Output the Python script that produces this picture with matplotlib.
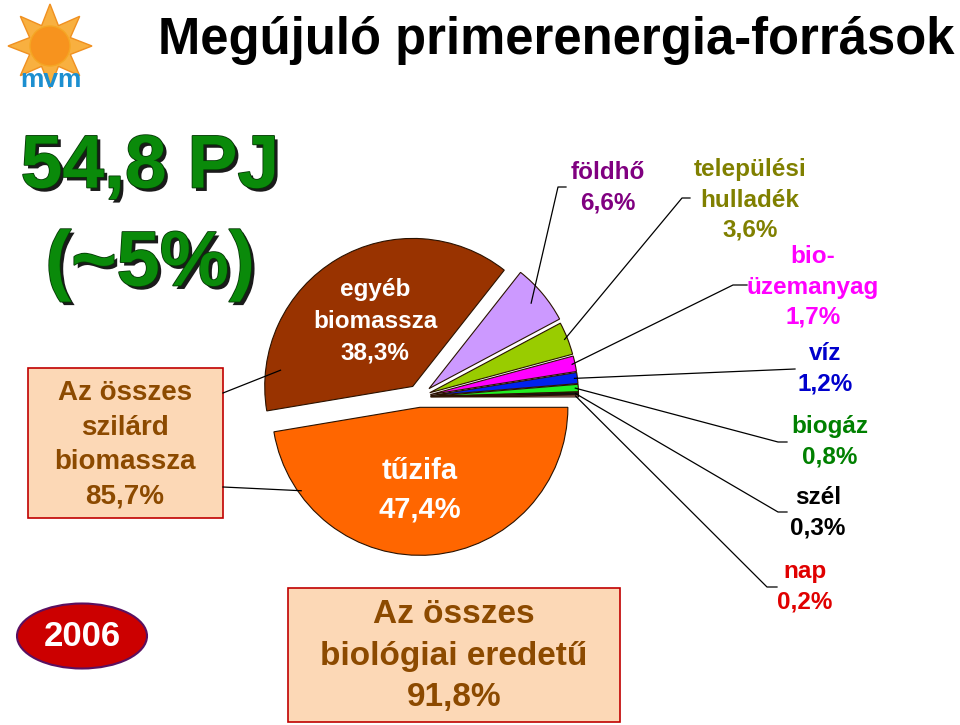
import matplotlib
matplotlib.use("Agg")
import matplotlib.pyplot as plt
import matplotlib.patheffects as pe
from matplotlib import font_manager
from matplotlib.patches import Ellipse, Rectangle, Circle, Polygon
import numpy as np

# data
names = ["tűzifa", "egyéb\nbiomassza", "földhő", "települési\nhulladék", "bio-\nüzemanyag",
         "víz", "biogáz", "szél", "nap"]
shares = [47.4, 38.3, 6.6, 3.6, 1.7, 1.2, 0.8, 0.3, 0.2]
colors = ["#FF6600", "#993300", "#CC99FF", "#99CC00", "#FF00FF", "#0022EE", "#22EE22", "#111111", "#FFB0B0"]
label_colors = ["white", "white", "#800080", "#808000", "#FF00FF", "#0000CC", "#008000", "black", "#E00000"]
explode_frac = [0.07, 0.083, 0.088, 0.078, 0.078, 0.078, 0.078, 0.078, 0.078]
total_pj = "54,8 PJ"
total_share = "(~5%)"
solid_bio = 85.7
all_bio = 91.8
year = "2006"


def pick(*fams):
    for f in fams:
        try:
            font_manager.findfont(font_manager.FontProperties(family=f), fallback_to_default=False)
            return f
        except Exception:
            pass
    return "DejaVu Sans"


arial = pick("Liberation Sans", "DejaVu Sans")


def pct(v):
    return f"{v:.1f}".replace(".", ",") + "%"


fig = plt.figure(figsize=(9.6, 7.25), dpi=100)
ax = fig.add_axes([0, 0, 1, 1])

# pie in pixel coordinates (y axis points down, so counterclock=True looks clockwise)
R = 148
wedges, _ = ax.pie(shares, colors=colors, explode=[e * R for e in explode_frac], startangle=0,
                   counterclock=True, center=(419, 397), radius=R,
                   wedgeprops=dict(edgecolor="#2a1200", linewidth=0.8))
ax.set_xlim(0, 960)
ax.set_ylim(725, 0)
ax.set_aspect("auto")
ax.axis("off")


def wpoint(w, fa, fr):
    th = np.radians(w.theta1 + fa * (w.theta2 - w.theta1))
    return w.center[0] + w.r * fr * np.cos(th), w.center[1] + w.r * fr * np.sin(th)


# labels inside big slices
ax.text(375, 321, names[1] + "\n" + pct(shares[1]), color="white", fontsize=17.5, fontweight="bold",
        family=arial, ha="center", va="center", linespacing=1.5)
ax.text(420, 490, names[0] + "\n" + pct(shares[0]), color="white", fontsize=21, fontweight="bold",
        family=arial, ha="center", va="center", linespacing=1.5)

# small slice labels with leader lines
lab_pos = [None, None, (608, 188), (750, 200), (813, 287), (825, 369), (830, 442), (818, 513), (805, 587)]
bend = [None, None, (558, 187), (682, 198), (733, 285), (795, 369), (778, 442), (778, 512), (767, 587)]
stub = [None, None, (566, 187), (690, 198), (747, 285), (795, 369), (787, 442), (787, 512), (777, 587)]
for i in range(2, len(shares)):
    sx, sy = wpoint(wedges[i], 0.5, 0.98 if i > 2 else 0.9)
    ax.plot([sx, bend[i][0], stub[i][0]], [sy, bend[i][1], stub[i][1]], color="black", lw=0.9)
    ax.text(lab_pos[i][0], lab_pos[i][1], names[i] + "\n" + pct(shares[i]), color=label_colors[i],
            fontsize=17.5, fontweight="bold", family=arial, ha="center", va="center", linespacing=1.4)

# title
ax.text(556, 40, "Megújuló primerenergia-források", fontsize=36.5, fontweight="bold", family=arial,
        ha="center", va="center", color="black")

# big green numbers
fx = [pe.SimplePatchShadow(offset=(2.5, -2.5), shadow_rgbFace="#1a1a1a", alpha=1),
      pe.Stroke(linewidth=1.2, foreground="#063806"), pe.Normal()]
ax.text(150, 168, total_pj, fontsize=54, fontweight="bold", family=arial, color="#0A8A0A",
        ha="center", va="center", path_effects=fx)
ax.text(150, 265, total_share, fontsize=56, fontweight="bold", family=arial, color="#0A8A0A",
        ha="center", va="center", path_effects=fx)

# left box
ax.add_patch(Rectangle((28, 368), 195, 150, facecolor="#FCD8B6", edgecolor="#C00000", lw=1.2))
ax.text(125, 445, "Az összes\nszilárd\nbiomassza\n" + pct(solid_bio), fontsize=20, fontweight="bold",
        family=arial, color="#8C4A00", ha="center", va="center", linespacing=1.42)
bx, by = wpoint(wedges[1], 0.12, 0.9)
ax.plot([223, bx], [393, by], color="black", lw=0.9)
tx, ty = wpoint(wedges[0], 0.85, 0.98)
ax.plot([223, tx], [487, ty], color="black", lw=0.9)

# bottom box
ax.add_patch(Rectangle((288, 588), 332, 134, facecolor="#FCD8B6", edgecolor="#C00000", lw=1.2))
ax.text(454, 656, "Az összes\nbiológiai eredetű\n" + pct(all_bio), fontsize=24, fontweight="bold",
        family=arial, color="#8C4A00", ha="center", va="center", linespacing=1.42)

# year ellipse
ax.add_patch(Ellipse((82, 636), 130, 65, facecolor="#CC0000", edgecolor="#5a1060", lw=1.5))
ax.text(82, 637, year, fontsize=25, fontweight="bold", family=arial, color="white",
        ha="center", va="center")

# logo
ang = np.linspace(0, 2 * np.pi, 16, endpoint=False) + np.pi / 2
rr = np.where(np.arange(16) % 2 == 0, 42, 22)
ax.add_patch(Polygon(np.c_[50 + rr * np.cos(ang), 46 - rr * np.sin(ang)], closed=True,
                     facecolor="#F8B040", edgecolor="#F09020", lw=1))
ax.add_patch(Circle((50, 46), 20, facecolor="#F7931E", edgecolor="#F5A623"))
ax.text(51, 80, "mvm", fontsize=19, fontweight="bold", family=arial, color="#1C8FD0",
        ha="center", va="center")

fig.savefig("out.png", dpi=100)
